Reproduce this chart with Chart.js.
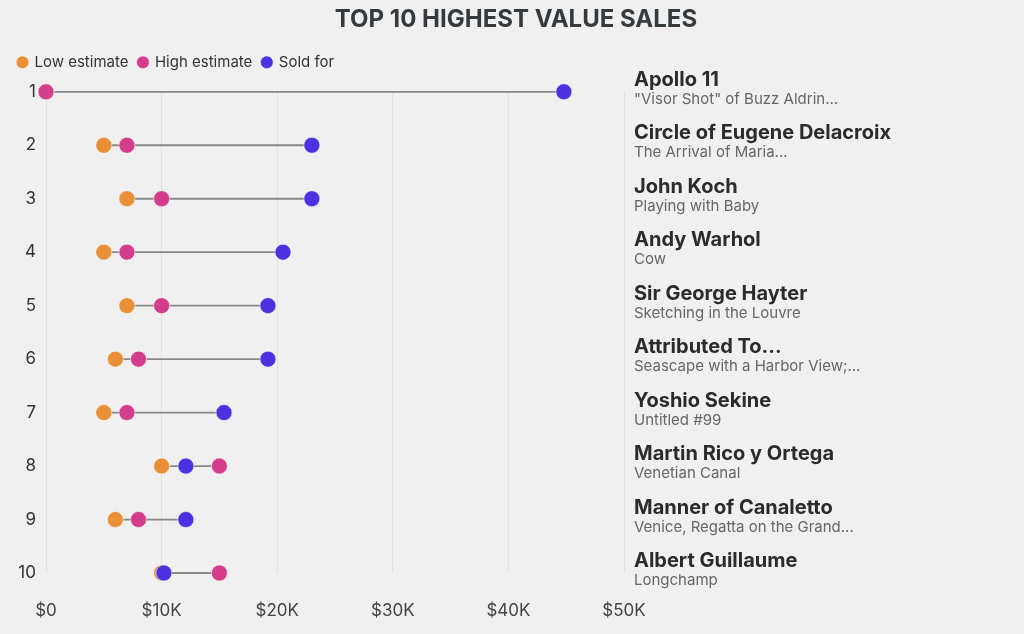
<!DOCTYPE html>
<html>
<head>
<meta charset="utf-8">
<title>Top 10 highest value sales</title>
<script src="https://cdn.jsdelivr.net/npm/chart.js@4.4.1/dist/chart.umd.min.js"></script>
<style>
  html, body { margin: 0; padding: 0; background: #f0f0f0; }
  #wrap { width: 1024px; height: 634px; position: relative; }
</style>
</head>
<body>
<div id="wrap"><canvas id="chartCanvas"></canvas></div>
<script>
// rij-gegevens
const ranks = [1, 2, 3, 4, 5, 6, 7, 8, 9, 10];
const rankLabels = ['1', '2', '3', '4', '5', '6', '7', '8', '9', '10'];
const artists = ['Apollo 11', 'Circle of Eugene Delacroix', 'John Koch', 'Andy Warhol', 'Sir George Hayter',
  'Attributed To...', 'Yoshio Sekine', 'Martin Rico y Ortega', 'Manner of Canaletto', 'Albert Guillaume'];
const works = ['"Visor Shot" of Buzz Aldrin...', 'The Arrival of Maria...', 'Playing with Baby', 'Cow',
  'Sketching in the Louvre', 'Seascape with a Harbor View;...', 'Untitled #99', 'Venetian Canal',
  'Venice, Regatta on the Grand...', 'Longchamp'];
const lowEstimate = [0, 5000, 7000, 5000, 7000, 6000, 5000, 10000, 6000, 10000];
const highEstimate = [0, 7000, 10000, 7000, 10000, 8000, 7000, 15000, 8000, 15000];
const soldFor = [44800, 23000, 23000, 20500, 19200, 19200, 15400, 12100, 12100, 10200];
const xTickLabels = ['$0', '$10K', '$20K', '$30K', '$40K', '$50K'];

const FONT = 'Inter';

function points(values) {
  return values.map((v, i) => ({ x: v, y: ranks[i] }));
}

// lijn van laagste naar hoogste waarde per rij, met gaten ertussen
const lineData = [];
ranks.forEach((r, i) => {
  const lo = Math.min(lowEstimate[i], highEstimate[i], soldFor[i]);
  const hi = Math.max(lowEstimate[i], highEstimate[i], soldFor[i]);
  lineData.push({ x: lo, y: r }, { x: hi, y: r }, { x: null, y: null });
});

// namen rechts van de grafiek
const rowLabels = {
  id: 'rowLabels',
  beforeLayout(chart) {
    const legend = chart.legend;
    if (legend && !legend._patched) {
      const fit = legend.fit;
      legend.fit = function () {
        fit.call(this);
        this.height += 12;
      };
      legend._patched = true;
    }
  },
  afterDraw(chart) {
    const ctx = chart.ctx;
    const y = chart.scales.y;
    const x0 = chart.chartArea.right + 10;
    ctx.save();
    ctx.textAlign = 'left';
    ctx.textBaseline = 'alphabetic';
    ranks.forEach((r, i) => {
      const py = y.getPixelForValue(r);
      ctx.font = 'bold 20px ' + FONT;
      ctx.fillStyle = '#2b2b2b';
      ctx.fillText(artists[i], x0, py - 6);
      ctx.font = '15px ' + FONT;
      ctx.fillStyle = '#666666';
      ctx.fillText(works[i], x0, py + 12);
    });
    ctx.restore();
  }
};

const pointStyle = {
  type: 'scatter',
  pointRadius: 8,
  pointHoverRadius: 8,
  borderWidth: 1,
  borderColor: 'rgba(255,255,255,0.55)',
  clip: false
};

const ctx = document.getElementById('chartCanvas').getContext('2d');
new Chart(ctx, {
  type: 'scatter',
  data: {
    datasets: [
      Object.assign({}, pointStyle, { label: 'Low estimate', data: points(lowEstimate), backgroundColor: '#e88f37', order: 3 }),
      Object.assign({}, pointStyle, { label: 'High estimate', data: points(highEstimate), backgroundColor: '#d43d8b', order: 2 }),
      Object.assign({}, pointStyle, { label: 'Sold for', data: points(soldFor), backgroundColor: '#4a32e0', order: 1 }),
      {
        type: 'line',
        label: '',
        data: lineData,
        borderColor: '#888888',
        borderWidth: 1.8,
        pointRadius: 0,
        spanGaps: false,
        clip: false,
        order: 4
      }
    ]
  },
  options: {
    responsive: true,
    maintainAspectRatio: false,
    animation: false,
    layout: { padding: { left: 8, right: 0, top: 0, bottom: 13 } },
    scales: {
      x: {
        type: 'linear',
        min: 0,
        max: 50000,
        afterFit(scale) { scale.height = 48; },
        ticks: {
          stepSize: 10000,
          padding: 28,
          color: '#444',
          font: { family: FONT, size: 17 },
          callback: (v, i) => xTickLabels[i]
        },
        grid: { color: '#e2e2e2', lineWidth: 1, drawTicks: false },
        border: { display: false }
      },
      y: {
        type: 'linear',
        reverse: true,
        min: 1,
        max: 10,
        afterFit(scale) { scale.width = 38; },
        ticks: {
          stepSize: 1,
          padding: 10,
          color: '#333',
          font: { family: FONT, size: 17 },
          callback: (v) => rankLabels[ranks.indexOf(v)]
        },
        grid: { display: false, drawTicks: false },
        border: { display: false }
      },
      yr: {
        type: 'linear',
        position: 'right',
        afterFit(scale) { scale.width = 400; },
        ticks: { display: false },
        grid: { display: false, drawTicks: false },
        border: { display: false }
      }
    },
    plugins: {
      title: {
        display: true,
        text: 'TOP 10 HIGHEST VALUE SALES',
        color: '#343a3d',
        font: { family: FONT, size: 24, weight: 'bold' },
        padding: { top: 5, bottom: 11 }
      },
      legend: {
        display: true,
        position: 'top',
        align: 'start',
        labels: {
          usePointStyle: true,
          pointStyle: 'circle',
          boxWidth: 9,
          boxHeight: 9,
          padding: 10,
          color: '#333',
          font: { family: FONT, size: 15 },
          filter: (item) => item.text !== '',
          sort: (a, b) => a.datasetIndex - b.datasetIndex
        }
      },
      tooltip: { enabled: false }
    }
  },
  plugins: [rowLabels]
});
</script>
</body>
</html>
